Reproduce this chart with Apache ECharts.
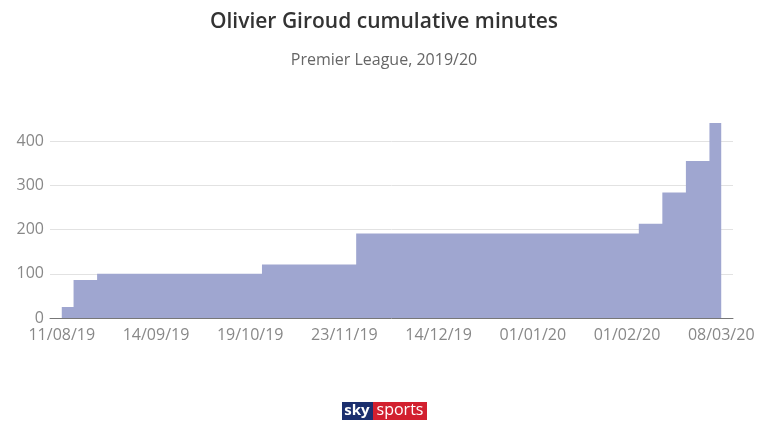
<!DOCTYPE html>
<html><head><meta charset="utf-8">
<script src="https://cdn.jsdelivr.net/npm/echarts@6/dist/echarts.min.js"></script>
<style>html,body{margin:0;padding:0;background:#fff}#c{width:768px;height:432px}</style>
</head><body><div id="c"></div>
<script>
const matchDates = ['11/08/19','18/08/19','24/08/19','31/08/19','14/09/19','22/09/19','28/09/19','05/10/19','19/10/19','26/10/19','02/11/19','09/11/19','23/11/19','30/11/19','04/12/19','07/12/19','14/12/19','21/12/19','26/12/19','29/12/19','01/01/20','11/01/20','18/01/20','21/01/20','01/02/20','17/02/20','22/02/20','29/02/20','08/03/20'];
const cumulativeMinutes = [25,86,100,100,100,100,100,100,100,121,121,121,121,191,191,191,191,191,191,191,191,191,191,191,191,213,284,355,441];
const yTicks = [0,100,200,300,400];
const chart = echarts.init(document.getElementById('c'));
const font = 'Open Sans';
chart.setOption({
  animation:false,
  title:[{text:'Olivier Giroud cumulative minutes',left:'center',top:7,textStyle:{fontFamily:font,fontSize:21,fontWeight:600,color:'#333'}},
         {text:'Premier League, 2019/20',left:'center',top:47,textStyle:{fontFamily:font,fontSize:16,fontWeight:'normal',color:'#666'}}],
  grid:{left:50,right:35,top:123,bottom:114},
  xAxis:{type:'category',data:matchDates,boundaryGap:true,
    axisLine:{lineStyle:{color:'#777'}},axisTick:{show:false},
    axisLabel:{interval:3,color:'#888',fontFamily:font,fontSize:16,margin:9}},
  yAxis:{type:'value',min:0,max:441,interval:100,
    axisLabel:{color:'#888',fontFamily:font,fontSize:16,margin:6,showMaxLabel:false},
    splitLine:{showMaxLine:false,lineStyle:{color:'#e2e2e2'}},axisLine:{show:false},axisTick:{show:false}},
  series:[{type:'line',step:'middle',data:cumulativeMinutes,symbol:'none',
    lineStyle:{width:0},areaStyle:{color:'#9fa6d0',opacity:1}}],
  graphic:[
    {type:'rect',shape:{x:342,y:402,width:31,height:18},style:{fill:'#1b2f6e'}},
    {type:'rect',shape:{x:373,y:402,width:54,height:18},style:{fill:'#d2202f'}},
    {type:'text',x:357,y:411,style:{text:'sky',fill:'#fff',font:'bold 15px "Open Sans"',align:'center',verticalAlign:'middle'}},
    {type:'text',x:400,y:410,style:{text:'sports',fill:'#fff',font:'16px "Open Sans"',align:'center',verticalAlign:'middle'}}
  ]
});
</script></body></html>
